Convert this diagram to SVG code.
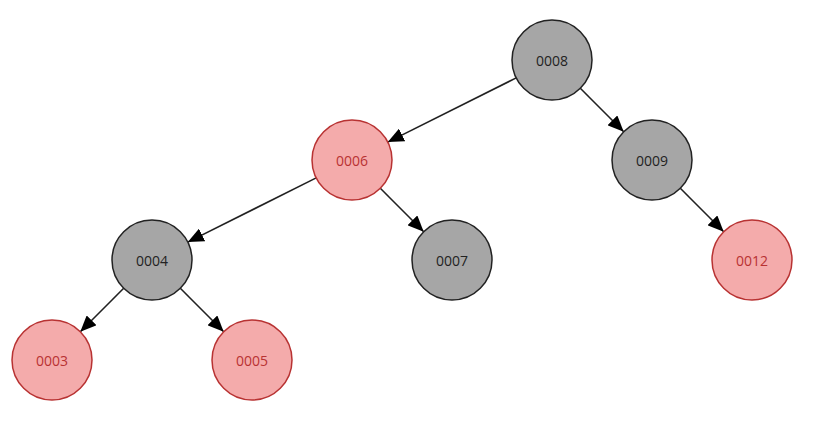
<svg xmlns="http://www.w3.org/2000/svg" width="819" height="428" viewBox="0 0 819 428">
<defs>
<style>
.black circle{fill:#a6a6a6;stroke:#222;stroke-width:1.5}
.red circle{fill:#f4abab;stroke:#b83232;stroke-width:1.5}
text{font-family:"Open Sans","Noto Sans",sans-serif;font-size:14px;text-anchor:middle;dominant-baseline:central}
.black text{fill:#222}
.red text{fill:#b83232}
.edge{stroke:#222;stroke-width:1.6;fill:none;marker-end:url(#ah)}
</style>
<marker id="ah" viewBox="0 0 16 14" refX="16" refY="7" markerWidth="16" markerHeight="14" markerUnits="userSpaceOnUse" orient="auto">
<path d="M0,0 L16,7 L0,14 z" fill="#000"/>
</marker>
</defs>
<rect width="819" height="428" fill="#fff"/>
<g id="edges">
<line class="edge" x1="516.2" y1="77.9" x2="387.8" y2="142.1"/>
<line class="edge" x1="580.3" y1="88.3" x2="623.7" y2="131.7"/>
<line class="edge" x1="316.2" y1="177.9" x2="187.8" y2="242.1"/>
<line class="edge" x1="380.3" y1="188.3" x2="423.7" y2="231.7"/>
<line class="edge" x1="680.3" y1="188.3" x2="723.7" y2="231.7"/>
<line class="edge" x1="123.7" y1="288.3" x2="80.3" y2="331.7"/>
<line class="edge" x1="180.3" y1="288.3" x2="223.7" y2="331.7"/>
</g>
<g id="n0008" class="black"><circle cx="552" cy="60" r="40"/><text x="552" y="60">0008</text></g>
<g id="n0006" class="red"><circle cx="352" cy="160" r="40"/><text x="352" y="160">0006</text></g>
<g id="n0009" class="black"><circle cx="652" cy="160" r="40"/><text x="652" y="160">0009</text></g>
<g id="n0004" class="black"><circle cx="152" cy="260" r="40"/><text x="152" y="260">0004</text></g>
<g id="n0007" class="black"><circle cx="452" cy="260" r="40"/><text x="452" y="260">0007</text></g>
<g id="n0012" class="red"><circle cx="752" cy="260" r="40"/><text x="752" y="260">0012</text></g>
<g id="n0003" class="red"><circle cx="52" cy="360" r="40"/><text x="52" y="360">0003</text></g>
<g id="n0005" class="red"><circle cx="252" cy="360" r="40"/><text x="252" y="360">0005</text></g>
</svg>
